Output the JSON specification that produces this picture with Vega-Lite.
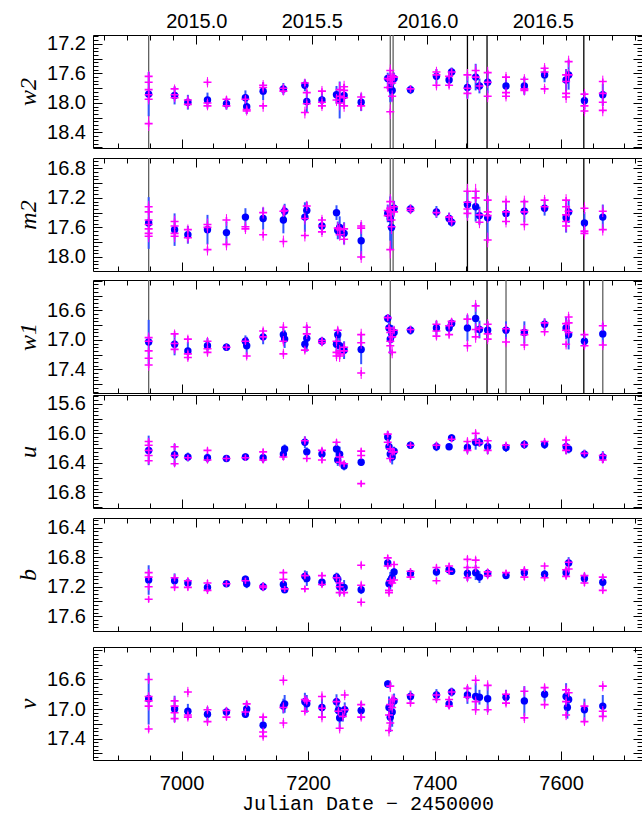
{
"$schema":"https://vega.github.io/schema/vega-lite/v6.json",
"background":"#ffffff",
"padding":{"left":16,"top":10,"right":0,"bottom":0},
"spacing":-3,
"config":{"view":{"stroke":"#000000","strokeWidth":1},
 "axis":{"labelFont":"Liberation Sans","labelFontSize":20,"labelColor":"#000000","tickColor":"#000000","tickWidth":1,"grid":false,"labelOverlap":false,"labelBound":false,"labelFlush":false,"titleColor":"#000000","minExtent":0}},
"datasets":{
"lines":[
{"f":"w2","t":6948,"k":"a"},{"f":"w2","t":7330,"k":"a"},{"f":"w2","t":7334.5,"k":"a"},{"f":"w2","t":7452,"k":"b"},{"f":"w2","t":7483,"k":"b"},{"f":"w2","t":7636,"k":"b"},
{"f":"m2","t":6948,"k":"a"},{"f":"m2","t":7330,"k":"a"},{"f":"m2","t":7334.5,"k":"a"},{"f":"m2","t":7452,"k":"b"},{"f":"m2","t":7483,"k":"b"},{"f":"m2","t":7636,"k":"b"},
{"f":"w1","t":6948,"k":"a"},{"f":"w1","t":7330,"k":"a"},{"f":"w1","t":7483,"k":"b"},{"f":"w1","t":7513,"k":"a"},{"f":"w1","t":7636,"k":"b"},{"f":"w1","t":7666,"k":"a"}],
"blue":[
{"f":"w2","t":6948,"m":17.88,"e":0.3},{"f":"w2","t":6989,"m":17.9,"e":0.12},{"f":"w2","t":7010,"m":17.99,"e":0.1},{"f":"w2","t":7041,"m":17.96,"e":0.1},{"f":"w2","t":7071,"m":18.01,"e":0.08},{"f":"w2","t":7101,"m":17.93,"e":0.1},{"f":"w2","t":7103,"m":18.05,"e":0.1},{"f":"w2","t":7129,"m":17.84,"e":0.12},{"f":"w2","t":7161,"m":17.81,"e":0.08},{"f":"w2","t":7195,"m":17.76,"e":0.08},{"f":"w2","t":7198,"m":17.98,"e":0.15},{"f":"w2","t":7222,"m":17.96,"e":0.12},{"f":"w2","t":7245,"m":17.89,"e":0.12},{"f":"w2","t":7250,"m":17.96,"e":0.25},{"f":"w2","t":7257,"m":17.9,"e":0.15},{"f":"w2","t":7284,"m":17.99,"e":0.12},{"f":"w2","t":7326,"m":17.67,"e":0.08},{"f":"w2","t":7330,"m":17.79,"e":0.2},{"f":"w2","t":7333,"m":17.83,"e":0.15},{"f":"w2","t":7336,"m":17.67,"e":0.08},{"f":"w2","t":7362,"m":17.82,"e":0.06},{"f":"w2","t":7403,"m":17.64,"e":0.1},{"f":"w2","t":7423,"m":17.69,"e":0.08},{"f":"w2","t":7427,"m":17.58,"e":0.06},{"f":"w2","t":7452,"m":17.79,"e":0.15},{"f":"w2","t":7465,"m":17.65,"e":0.18},{"f":"w2","t":7471,"m":17.77,"e":0.1},{"f":"w2","t":7484,"m":17.72,"e":0.15},{"f":"w2","t":7513,"m":17.77,"e":0.12},{"f":"w2","t":7542,"m":17.77,"e":0.12},{"f":"w2","t":7574,"m":17.62,"e":0.1},{"f":"w2","t":7608,"m":17.69,"e":0.15},{"f":"w2","t":7612,"m":17.62,"e":0.2},{"f":"w2","t":7637,"m":17.97,"e":0.12},{"f":"w2","t":7666,"m":17.89,"e":0.15},
{"f":"m2","t":6948,"m":17.54,"e":0.35},{"f":"m2","t":6989,"m":17.63,"e":0.22},{"f":"m2","t":7010,"m":17.7,"e":0.12},{"f":"m2","t":7041,"m":17.63,"e":0.2},{"f":"m2","t":7071,"m":17.67,"e":0.15},{"f":"m2","t":7101,"m":17.46,"e":0.12},{"f":"m2","t":7129,"m":17.48,"e":0.15},{"f":"m2","t":7161,"m":17.5,"e":0.18},{"f":"m2","t":7163,"m":17.38,"e":0.1},{"f":"m2","t":7195,"m":17.46,"e":0.2},{"f":"m2","t":7198,"m":17.37,"e":0.12},{"f":"m2","t":7222,"m":17.58,"e":0.12},{"f":"m2","t":7245,"m":17.4,"e":0.1},{"f":"m2","t":7247,"m":17.64,"e":0.12},{"f":"m2","t":7250,"m":17.6,"e":0.15},{"f":"m2","t":7257,"m":17.68,"e":0.15},{"f":"m2","t":7284,"m":17.78,"e":0.25},{"f":"m2","t":7326,"m":17.41,"e":0.12},{"f":"m2","t":7330,"m":17.48,"e":0.3},{"f":"m2","t":7332,"m":17.6,"e":0.3},{"f":"m2","t":7336,"m":17.34,"e":0.1},{"f":"m2","t":7362,"m":17.35,"e":0.06},{"f":"m2","t":7403,"m":17.39,"e":0.08},{"f":"m2","t":7423,"m":17.48,"e":0.08},{"f":"m2","t":7427,"m":17.53,"e":0.06},{"f":"m2","t":7452,"m":17.29,"e":0.18},{"f":"m2","t":7465,"m":17.32,"e":0.2},{"f":"m2","t":7471,"m":17.44,"e":0.12},{"f":"m2","t":7484,"m":17.47,"e":0.3},{"f":"m2","t":7513,"m":17.41,"e":0.15},{"f":"m2","t":7542,"m":17.38,"e":0.15},{"f":"m2","t":7574,"m":17.34,"e":0.1},{"f":"m2","t":7608,"m":17.47,"e":0.2},{"f":"m2","t":7612,"m":17.39,"e":0.15},{"f":"m2","t":7637,"m":17.54,"e":0.15},{"f":"m2","t":7666,"m":17.46,"e":0.17},
{"f":"w1","t":6948,"m":17.03,"e":0.3},{"f":"w1","t":6989,"m":17.06,"e":0.15},{"f":"w1","t":7010,"m":17.15,"e":0.12},{"f":"w1","t":7041,"m":17.08,"e":0.1},{"f":"w1","t":7071,"m":17.1,"e":0.05},{"f":"w1","t":7101,"m":17.02,"e":0.08},{"f":"w1","t":7103,"m":17.08,"e":0.12},{"f":"w1","t":7129,"m":16.96,"e":0.1},{"f":"w1","t":7161,"m":16.93,"e":0.1},{"f":"w1","t":7163,"m":16.99,"e":0.12},{"f":"w1","t":7195,"m":17.06,"e":0.1},{"f":"w1","t":7198,"m":16.98,"e":0.18},{"f":"w1","t":7222,"m":17.02,"e":0.06},{"f":"w1","t":7245,"m":17.06,"e":0.12},{"f":"w1","t":7247,"m":16.93,"e":0.08},{"f":"w1","t":7250,"m":17.08,"e":0.15},{"f":"w1","t":7257,"m":17.14,"e":0.12},{"f":"w1","t":7284,"m":17.13,"e":0.2},{"f":"w1","t":7326,"m":16.71,"e":0.06},{"f":"w1","t":7328,"m":16.84,"e":0.1},{"f":"w1","t":7330,"m":16.99,"e":0.2},{"f":"w1","t":7333,"m":16.92,"e":0.12},{"f":"w1","t":7336,"m":16.9,"e":0.08},{"f":"w1","t":7362,"m":16.87,"e":0.06},{"f":"w1","t":7403,"m":16.84,"e":0.1},{"f":"w1","t":7423,"m":16.84,"e":0.08},{"f":"w1","t":7427,"m":16.78,"e":0.06},{"f":"w1","t":7452,"m":16.84,"e":0.18},{"f":"w1","t":7465,"m":16.71,"e":0.2},{"f":"w1","t":7471,"m":16.86,"e":0.12},{"f":"w1","t":7484,"m":16.87,"e":0.12},{"f":"w1","t":7513,"m":16.87,"e":0.12},{"f":"w1","t":7542,"m":16.9,"e":0.15},{"f":"w1","t":7574,"m":16.79,"e":0.08},{"f":"w1","t":7608,"m":16.84,"e":0.15},{"f":"w1","t":7612,"m":16.93,"e":0.2},{"f":"w1","t":7637,"m":17.02,"e":0.08},{"f":"w1","t":7666,"m":16.92,"e":0.15},
{"f":"u","t":6948,"m":16.23,"e":0.2},{"f":"u","t":6989,"m":16.29,"e":0.15},{"f":"u","t":7010,"m":16.32,"e":0.06},{"f":"u","t":7041,"m":16.33,"e":0.06},{"f":"u","t":7071,"m":16.34,"e":0.04},{"f":"u","t":7101,"m":16.32,"e":0.05},{"f":"u","t":7129,"m":16.33,"e":0.07},{"f":"u","t":7161,"m":16.28,"e":0.08},{"f":"u","t":7163,"m":16.21,"e":0.06},{"f":"u","t":7195,"m":16.12,"e":0.08},{"f":"u","t":7198,"m":16.25,"e":0.06},{"f":"u","t":7222,"m":16.28,"e":0.08},{"f":"u","t":7245,"m":16.21,"e":0.1},{"f":"u","t":7247,"m":16.36,"e":0.08},{"f":"u","t":7250,"m":16.28,"e":0.1},{"f":"u","t":7257,"m":16.44,"e":0.06},{"f":"u","t":7284,"m":16.39,"e":0.05},{"f":"u","t":7326,"m":16.05,"e":0.08},{"f":"u","t":7328,"m":16.18,"e":0.1},{"f":"u","t":7330,"m":16.28,"e":0.1},{"f":"u","t":7333,"m":16.32,"e":0.1},{"f":"u","t":7336,"m":16.24,"e":0.06},{"f":"u","t":7362,"m":16.16,"e":0.05},{"f":"u","t":7403,"m":16.18,"e":0.06},{"f":"u","t":7423,"m":16.18,"e":0.04},{"f":"u","t":7427,"m":16.06,"e":0.05},{"f":"u","t":7452,"m":16.19,"e":0.08},{"f":"u","t":7465,"m":16.12,"e":0.1},{"f":"u","t":7471,"m":16.12,"e":0.06},{"f":"u","t":7484,"m":16.18,"e":0.1},{"f":"u","t":7513,"m":16.19,"e":0.06},{"f":"u","t":7542,"m":16.15,"e":0.06},{"f":"u","t":7574,"m":16.15,"e":0.06},{"f":"u","t":7608,"m":16.18,"e":0.1},{"f":"u","t":7612,"m":16.21,"e":0.06},{"f":"u","t":7637,"m":16.28,"e":0.06},{"f":"u","t":7666,"m":16.32,"e":0.08},
{"f":"b","t":6948,"m":17.11,"e":0.2},{"f":"b","t":6989,"m":17.12,"e":0.1},{"f":"b","t":7010,"m":17.15,"e":0.06},{"f":"b","t":7041,"m":17.21,"e":0.06},{"f":"b","t":7071,"m":17.16,"e":0.04},{"f":"b","t":7101,"m":17.1,"e":0.05},{"f":"b","t":7103,"m":17.16,"e":0.06},{"f":"b","t":7129,"m":17.2,"e":0.06},{"f":"b","t":7161,"m":17.17,"e":0.06},{"f":"b","t":7163,"m":17.24,"e":0.05},{"f":"b","t":7195,"m":17.06,"e":0.08},{"f":"b","t":7198,"m":17.09,"e":0.1},{"f":"b","t":7222,"m":17.14,"e":0.06},{"f":"b","t":7245,"m":17.07,"e":0.06},{"f":"b","t":7247,"m":17.1,"e":0.08},{"f":"b","t":7250,"m":17.2,"e":0.12},{"f":"b","t":7257,"m":17.21,"e":0.1},{"f":"b","t":7284,"m":17.24,"e":0.06},{"f":"b","t":7326,"m":16.88,"e":0.06},{"f":"b","t":7328,"m":17.16,"e":0.1},{"f":"b","t":7330,"m":17.12,"e":0.12},{"f":"b","t":7333,"m":17.08,"e":0.1},{"f":"b","t":7336,"m":17.0,"e":0.06},{"f":"b","t":7362,"m":17.02,"e":0.04},{"f":"b","t":7403,"m":17.0,"e":0.06},{"f":"b","t":7423,"m":16.97,"e":0.05},{"f":"b","t":7427,"m":16.99,"e":0.05},{"f":"b","t":7452,"m":17.02,"e":0.1},{"f":"b","t":7465,"m":17.01,"e":0.1},{"f":"b","t":7471,"m":17.07,"e":0.08},{"f":"b","t":7484,"m":17.02,"e":0.06},{"f":"b","t":7513,"m":17.05,"e":0.04},{"f":"b","t":7542,"m":17.01,"e":0.06},{"f":"b","t":7574,"m":17.03,"e":0.06},{"f":"b","t":7608,"m":17.01,"e":0.07},{"f":"b","t":7612,"m":16.88,"e":0.08},{"f":"b","t":7637,"m":17.09,"e":0.07},{"f":"b","t":7666,"m":17.14,"e":0.09},
{"f":"v","t":6948,"m":16.86,"e":0.35},{"f":"v","t":6989,"m":17.0,"e":0.18},{"f":"v","t":7010,"m":17.03,"e":0.1},{"f":"v","t":7041,"m":17.07,"e":0.1},{"f":"v","t":7071,"m":17.04,"e":0.06},{"f":"v","t":7101,"m":17.07,"e":0.05},{"f":"v","t":7103,"m":17.0,"e":0.1},{"f":"v","t":7129,"m":17.22,"e":0.12},{"f":"v","t":7161,"m":16.96,"e":0.1},{"f":"v","t":7163,"m":16.93,"e":0.12},{"f":"v","t":7195,"m":16.9,"e":0.12},{"f":"v","t":7198,"m":16.93,"e":0.12},{"f":"v","t":7222,"m":16.98,"e":0.12},{"f":"v","t":7245,"m":16.9,"e":0.1},{"f":"v","t":7248,"m":17.02,"e":0.1},{"f":"v","t":7250,"m":17.12,"e":0.15},{"f":"v","t":7255,"m":17.07,"e":0.1},{"f":"v","t":7258,"m":17.01,"e":0.1},{"f":"v","t":7284,"m":17.02,"e":0.12},{"f":"v","t":7326,"m":16.66,"e":0.05},{"f":"v","t":7328,"m":16.98,"e":0.15},{"f":"v","t":7330,"m":17.11,"e":0.2},{"f":"v","t":7333,"m":17.04,"e":0.2},{"f":"v","t":7336,"m":16.89,"e":0.1},{"f":"v","t":7362,"m":16.83,"e":0.08},{"f":"v","t":7403,"m":16.81,"e":0.08},{"f":"v","t":7423,"m":16.93,"e":0.06},{"f":"v","t":7427,"m":16.77,"e":0.06},{"f":"v","t":7452,"m":16.81,"e":0.12},{"f":"v","t":7465,"m":16.83,"e":0.18},{"f":"v","t":7471,"m":16.84,"e":0.1},{"f":"v","t":7484,"m":16.86,"e":0.18},{"f":"v","t":7513,"m":16.84,"e":0.1},{"f":"v","t":7542,"m":16.89,"e":0.2},{"f":"v","t":7574,"m":16.8,"e":0.1},{"f":"v","t":7608,"m":16.83,"e":0.18},{"f":"v","t":7610,"m":16.98,"e":0.15},{"f":"v","t":7612,"m":16.87,"e":0.1},{"f":"v","t":7637,"m":17.01,"e":0.15},{"f":"v","t":7666,"m":16.96,"e":0.15}],
"mag":[
{"f":"w2","t":6948,"m":17.64,"e":0.07},{"f":"w2","t":6948,"m":17.72,"e":0.06},{"f":"w2","t":6948,"m":17.82,"e":0.06},{"f":"w2","t":6948,"m":17.89,"e":0.06},{"f":"w2","t":6948,"m":17.95,"e":0.07},{"f":"w2","t":6948,"m":18.28,"e":0.1},
{"f":"w2","t":6989,"m":17.81,"e":0.06},{"f":"w2","t":6989,"m":17.89,"e":0.06},{"f":"w2","t":6989,"m":17.93,"e":0.06},
{"f":"w2","t":7010,"m":17.96,"e":0.06},{"f":"w2","t":7010,"m":18.02,"e":0.06},
{"f":"w2","t":7041,"m":17.72,"e":0.07},{"f":"w2","t":7041,"m":18.0,"e":0.06},{"f":"w2","t":7041,"m":18.04,"e":0.06},
{"f":"w2","t":7071,"m":17.95,"e":0.05},{"f":"w2","t":7071,"m":18.04,"e":0.05},
{"f":"w2","t":7101,"m":17.95,"e":0.06},{"f":"w2","t":7103,"m":18.09,"e":0.06},{"f":"w2","t":7103,"m":18.11,"e":0.06},
{"f":"w2","t":7129,"m":17.76,"e":0.07},{"f":"w2","t":7129,"m":17.79,"e":0.07},{"f":"w2","t":7129,"m":18.04,"e":0.08},
{"f":"w2","t":7161,"m":17.8,"e":0.06},{"f":"w2","t":7161,"m":17.84,"e":0.06},
{"f":"w2","t":7195,"m":17.73,"e":0.06},{"f":"w2","t":7195,"m":18.13,"e":0.08},{"f":"w2","t":7198,"m":17.86,"e":0.07},{"f":"w2","t":7198,"m":18.01,"e":0.07},
{"f":"w2","t":7222,"m":17.84,"e":0.07},{"f":"w2","t":7222,"m":17.99,"e":0.07},{"f":"w2","t":7222,"m":18.04,"e":0.07},
{"f":"w2","t":7245,"m":17.96,"e":0.08},{"f":"w2","t":7250,"m":17.82,"e":0.1},{"f":"w2","t":7250,"m":17.91,"e":0.1},{"f":"w2","t":7250,"m":18.0,"e":0.1},
{"f":"w2","t":7257,"m":17.78,"e":0.08},{"f":"w2","t":7257,"m":17.83,"e":0.08},{"f":"w2","t":7257,"m":17.93,"e":0.08},{"f":"w2","t":7257,"m":18.04,"e":0.08},
{"f":"w2","t":7284,"m":17.92,"e":0.07},{"f":"w2","t":7284,"m":18.04,"e":0.07},
{"f":"w2","t":7326,"m":17.67,"e":0.06},{"f":"w2","t":7326,"m":17.79,"e":0.06},
{"f":"w2","t":7330,"m":17.56,"e":0.08},{"f":"w2","t":7330,"m":17.69,"e":0.08},{"f":"w2","t":7330,"m":18.12,"e":0.1},
{"f":"w2","t":7333,"m":17.64,"e":0.07},{"f":"w2","t":7333,"m":17.73,"e":0.07},{"f":"w2","t":7333,"m":17.91,"e":0.08},
{"f":"w2","t":7336,"m":17.65,"e":0.06},{"f":"w2","t":7362,"m":17.81,"e":0.05},
{"f":"w2","t":7403,"m":17.58,"e":0.07},{"f":"w2","t":7403,"m":17.62,"e":0.07},{"f":"w2","t":7403,"m":17.76,"e":0.07},
{"f":"w2","t":7423,"m":17.64,"e":0.06},{"f":"w2","t":7423,"m":17.76,"e":0.06},{"f":"w2","t":7427,"m":17.58,"e":0.05},
{"f":"w2","t":7452,"m":17.62,"e":0.08},{"f":"w2","t":7452,"m":17.8,"e":0.08},{"f":"w2","t":7452,"m":17.87,"e":0.08},
{"f":"w2","t":7465,"m":17.56,"e":0.08},{"f":"w2","t":7465,"m":17.65,"e":0.08},{"f":"w2","t":7471,"m":17.77,"e":0.07},
{"f":"w2","t":7484,"m":17.59,"e":0.08},{"f":"w2","t":7484,"m":17.72,"e":0.08},{"f":"w2","t":7484,"m":17.91,"e":0.08},
{"f":"w2","t":7513,"m":17.65,"e":0.07},{"f":"w2","t":7513,"m":17.86,"e":0.07},{"f":"w2","t":7513,"m":17.91,"e":0.07},
{"f":"w2","t":7542,"m":17.68,"e":0.07},{"f":"w2","t":7542,"m":17.81,"e":0.07},{"f":"w2","t":7542,"m":17.83,"e":0.07},
{"f":"w2","t":7574,"m":17.53,"e":0.07},{"f":"w2","t":7574,"m":17.58,"e":0.07},{"f":"w2","t":7574,"m":17.81,"e":0.07},
{"f":"w2","t":7608,"m":17.62,"e":0.08},{"f":"w2","t":7608,"m":17.71,"e":0.08},{"f":"w2","t":7608,"m":17.87,"e":0.08},{"f":"w2","t":7608,"m":17.92,"e":0.08},
{"f":"w2","t":7612,"m":17.44,"e":0.08},{"f":"w2","t":7612,"m":17.62,"e":0.08},
{"f":"w2","t":7637,"m":17.88,"e":0.07},{"f":"w2","t":7637,"m":18.04,"e":0.07},{"f":"w2","t":7637,"m":18.11,"e":0.07},
{"f":"w2","t":7666,"m":17.71,"e":0.08},{"f":"w2","t":7666,"m":17.87,"e":0.08},{"f":"w2","t":7666,"m":17.99,"e":0.08},{"f":"w2","t":7666,"m":18.1,"e":0.08},
{"f":"m2","t":6948,"m":17.32,"e":0.08},{"f":"m2","t":6948,"m":17.39,"e":0.08},{"f":"m2","t":6948,"m":17.5,"e":0.08},{"f":"m2","t":6948,"m":17.56,"e":0.08},{"f":"m2","t":6948,"m":17.62,"e":0.08},{"f":"m2","t":6948,"m":17.68,"e":0.08},{"f":"m2","t":6948,"m":17.72,"e":0.08},
{"f":"m2","t":6989,"m":17.52,"e":0.08},{"f":"m2","t":6989,"m":17.58,"e":0.08},{"f":"m2","t":6989,"m":17.68,"e":0.08},{"f":"m2","t":6989,"m":17.72,"e":0.08},
{"f":"m2","t":7010,"m":17.63,"e":0.07},{"f":"m2","t":7010,"m":17.74,"e":0.07},
{"f":"m2","t":7041,"m":17.56,"e":0.08},{"f":"m2","t":7041,"m":17.6,"e":0.08},{"f":"m2","t":7041,"m":17.9,"e":0.08},
{"f":"m2","t":7071,"m":17.5,"e":0.08},{"f":"m2","t":7071,"m":17.83,"e":0.08},
{"f":"m2","t":7101,"m":17.59,"e":0.07},{"f":"m2","t":7101,"m":17.62,"e":0.07},
{"f":"m2","t":7129,"m":17.4,"e":0.08},{"f":"m2","t":7129,"m":17.7,"e":0.08},
{"f":"m2","t":7161,"m":17.38,"e":0.08},{"f":"m2","t":7161,"m":17.79,"e":0.08},{"f":"m2","t":7163,"m":17.37,"e":0.07},
{"f":"m2","t":7195,"m":17.48,"e":0.08},{"f":"m2","t":7195,"m":17.71,"e":0.08},{"f":"m2","t":7198,"m":17.31,"e":0.07},
{"f":"m2","t":7222,"m":17.5,"e":0.07},{"f":"m2","t":7222,"m":17.58,"e":0.07},{"f":"m2","t":7222,"m":17.66,"e":0.07},
{"f":"m2","t":7247,"m":17.61,"e":0.08},{"f":"m2","t":7250,"m":17.63,"e":0.08},{"f":"m2","t":7250,"m":17.7,"e":0.08},{"f":"m2","t":7257,"m":17.62,"e":0.08},{"f":"m2","t":7257,"m":17.76,"e":0.08},
{"f":"m2","t":7284,"m":17.58,"e":0.08},{"f":"m2","t":7284,"m":17.61,"e":0.08},{"f":"m2","t":7284,"m":18.0,"e":0.08},
{"f":"m2","t":7326,"m":17.37,"e":0.07},{"f":"m2","t":7326,"m":17.44,"e":0.07},
{"f":"m2","t":7330,"m":17.25,"e":0.1},{"f":"m2","t":7330,"m":17.34,"e":0.1},{"f":"m2","t":7330,"m":17.39,"e":0.1},{"f":"m2","t":7330,"m":17.9,"e":0.12},
{"f":"m2","t":7332,"m":17.5,"e":0.1},{"f":"m2","t":7332,"m":17.59,"e":0.1},{"f":"m2","t":7336,"m":17.32,"e":0.07},{"f":"m2","t":7336,"m":17.39,"e":0.07},
{"f":"m2","t":7362,"m":17.34,"e":0.05},{"f":"m2","t":7362,"m":17.37,"e":0.05},
{"f":"m2","t":7403,"m":17.4,"e":0.06},{"f":"m2","t":7423,"m":17.46,"e":0.06},{"f":"m2","t":7427,"m":17.52,"e":0.06},
{"f":"m2","t":7452,"m":17.11,"e":0.1},{"f":"m2","t":7452,"m":17.26,"e":0.1},{"f":"m2","t":7452,"m":17.35,"e":0.1},{"f":"m2","t":7452,"m":17.41,"e":0.1},
{"f":"m2","t":7465,"m":17.11,"e":0.1},{"f":"m2","t":7465,"m":17.2,"e":0.1},
{"f":"m2","t":7471,"m":17.43,"e":0.08},{"f":"m2","t":7471,"m":17.53,"e":0.08},
{"f":"m2","t":7484,"m":17.23,"e":0.1},{"f":"m2","t":7484,"m":17.39,"e":0.1},{"f":"m2","t":7484,"m":17.44,"e":0.1},{"f":"m2","t":7484,"m":17.77,"e":0.1},
{"f":"m2","t":7513,"m":17.25,"e":0.08},{"f":"m2","t":7513,"m":17.39,"e":0.08},{"f":"m2","t":7513,"m":17.52,"e":0.08},
{"f":"m2","t":7542,"m":17.25,"e":0.08},{"f":"m2","t":7542,"m":17.39,"e":0.08},{"f":"m2","t":7542,"m":17.56,"e":0.08},
{"f":"m2","t":7574,"m":17.23,"e":0.07},{"f":"m2","t":7574,"m":17.32,"e":0.07},
{"f":"m2","t":7608,"m":17.23,"e":0.08},{"f":"m2","t":7608,"m":17.32,"e":0.08},{"f":"m2","t":7608,"m":17.43,"e":0.08},{"f":"m2","t":7608,"m":17.52,"e":0.08},{"f":"m2","t":7608,"m":17.58,"e":0.08},
{"f":"m2","t":7612,"m":17.38,"e":0.08},
{"f":"m2","t":7637,"m":17.34,"e":0.08},{"f":"m2","t":7637,"m":17.65,"e":0.08},{"f":"m2","t":7637,"m":17.68,"e":0.08},
{"f":"m2","t":7666,"m":17.38,"e":0.08},{"f":"m2","t":7666,"m":17.63,"e":0.08},
{"f":"w1","t":6948,"m":16.97,"e":0.07},{"f":"w1","t":6948,"m":17.02,"e":0.07},{"f":"w1","t":6948,"m":17.15,"e":0.07},{"f":"w1","t":6948,"m":17.25,"e":0.08},{"f":"w1","t":6948,"m":17.34,"e":0.08},
{"f":"w1","t":6989,"m":16.92,"e":0.06},{"f":"w1","t":6989,"m":17.05,"e":0.06},{"f":"w1","t":6989,"m":17.13,"e":0.06},
{"f":"w1","t":7010,"m":16.99,"e":0.06},{"f":"w1","t":7010,"m":17.19,"e":0.06},{"f":"w1","t":7010,"m":17.24,"e":0.06},
{"f":"w1","t":7041,"m":17.02,"e":0.06},{"f":"w1","t":7041,"m":17.12,"e":0.06},{"f":"w1","t":7041,"m":17.17,"e":0.06},
{"f":"w1","t":7071,"m":17.1,"e":0.04},{"f":"w1","t":7101,"m":17.02,"e":0.05},{"f":"w1","t":7103,"m":17.22,"e":0.06},
{"f":"w1","t":7129,"m":16.88,"e":0.06},{"f":"w1","t":7129,"m":16.96,"e":0.06},
{"f":"w1","t":7161,"m":16.83,"e":0.07},{"f":"w1","t":7161,"m":17.02,"e":0.07},{"f":"w1","t":7161,"m":17.19,"e":0.07},
{"f":"w1","t":7195,"m":17.14,"e":0.06},{"f":"w1","t":7198,"m":16.83,"e":0.07},{"f":"w1","t":7198,"m":16.92,"e":0.07},
{"f":"w1","t":7222,"m":17.01,"e":0.05},{"f":"w1","t":7222,"m":17.04,"e":0.05},
{"f":"w1","t":7245,"m":17.02,"e":0.07},{"f":"w1","t":7245,"m":17.17,"e":0.07},{"f":"w1","t":7245,"m":17.22,"e":0.07},{"f":"w1","t":7247,"m":16.87,"e":0.06},
{"f":"w1","t":7250,"m":17.15,"e":0.08},{"f":"w1","t":7250,"m":17.19,"e":0.08},{"f":"w1","t":7250,"m":17.22,"e":0.08},
{"f":"w1","t":7257,"m":17.1,"e":0.07},{"f":"w1","t":7257,"m":17.15,"e":0.07},
{"f":"w1","t":7284,"m":16.93,"e":0.08},{"f":"w1","t":7284,"m":17.04,"e":0.08},{"f":"w1","t":7284,"m":17.45,"e":0.08},
{"f":"w1","t":7326,"m":16.7,"e":0.05},{"f":"w1","t":7328,"m":16.84,"e":0.06},
{"f":"w1","t":7330,"m":16.9,"e":0.08},{"f":"w1","t":7330,"m":17.02,"e":0.08},{"f":"w1","t":7330,"m":17.08,"e":0.08},
{"f":"w1","t":7333,"m":16.96,"e":0.08},{"f":"w1","t":7333,"m":17.17,"e":0.08},{"f":"w1","t":7336,"m":16.87,"e":0.06},
{"f":"w1","t":7362,"m":16.86,"e":0.05},
{"f":"w1","t":7403,"m":16.79,"e":0.06},{"f":"w1","t":7403,"m":16.88,"e":0.06},{"f":"w1","t":7403,"m":16.95,"e":0.06},
{"f":"w1","t":7423,"m":16.81,"e":0.06},{"f":"w1","t":7423,"m":16.93,"e":0.06},{"f":"w1","t":7427,"m":16.75,"e":0.05},
{"f":"w1","t":7452,"m":16.72,"e":0.08},{"f":"w1","t":7452,"m":17.08,"e":0.08},
{"f":"w1","t":7465,"m":16.54,"e":0.08},{"f":"w1","t":7465,"m":16.86,"e":0.08},{"f":"w1","t":7465,"m":16.96,"e":0.08},
{"f":"w1","t":7471,"m":16.84,"e":0.06},
{"f":"w1","t":7484,"m":16.79,"e":0.07},{"f":"w1","t":7484,"m":16.92,"e":0.07},{"f":"w1","t":7484,"m":16.99,"e":0.07},
{"f":"w1","t":7513,"m":16.85,"e":0.07},{"f":"w1","t":7513,"m":17.03,"e":0.07},
{"f":"w1","t":7542,"m":16.87,"e":0.07},{"f":"w1","t":7542,"m":16.93,"e":0.07},{"f":"w1","t":7542,"m":17.07,"e":0.07},
{"f":"w1","t":7574,"m":16.77,"e":0.06},{"f":"w1","t":7574,"m":16.89,"e":0.06},
{"f":"w1","t":7608,"m":16.78,"e":0.07},{"f":"w1","t":7608,"m":16.87,"e":0.07},{"f":"w1","t":7608,"m":17.06,"e":0.07},
{"f":"w1","t":7612,"m":16.69,"e":0.07},{"f":"w1","t":7612,"m":16.77,"e":0.07},{"f":"w1","t":7612,"m":16.9,"e":0.07},
{"f":"w1","t":7637,"m":16.93,"e":0.06},{"f":"w1","t":7637,"m":17.08,"e":0.06},
{"f":"w1","t":7666,"m":16.81,"e":0.07},{"f":"w1","t":7666,"m":17.07,"e":0.07},
{"f":"u","t":6948,"m":16.11,"e":0.05},{"f":"u","t":6948,"m":16.16,"e":0.05},{"f":"u","t":6948,"m":16.23,"e":0.05},{"f":"u","t":6948,"m":16.3,"e":0.05},{"f":"u","t":6948,"m":16.37,"e":0.05},
{"f":"u","t":6989,"m":16.18,"e":0.05},{"f":"u","t":6989,"m":16.3,"e":0.05},{"f":"u","t":6989,"m":16.41,"e":0.05},
{"f":"u","t":7010,"m":16.33,"e":0.04},{"f":"u","t":7041,"m":16.23,"e":0.05},{"f":"u","t":7041,"m":16.36,"e":0.05},
{"f":"u","t":7071,"m":16.34,"e":0.03},{"f":"u","t":7101,"m":16.33,"e":0.04},
{"f":"u","t":7129,"m":16.25,"e":0.05},{"f":"u","t":7129,"m":16.36,"e":0.05},{"f":"u","t":7161,"m":16.32,"e":0.05},
{"f":"u","t":7195,"m":16.1,"e":0.06},{"f":"u","t":7198,"m":16.34,"e":0.05},
{"f":"u","t":7222,"m":16.23,"e":0.05},{"f":"u","t":7222,"m":16.36,"e":0.05},{"f":"u","t":7245,"m":16.12,"e":0.05},
{"f":"u","t":7250,"m":16.32,"e":0.06},{"f":"u","t":7250,"m":16.39,"e":0.06},{"f":"u","t":7257,"m":16.41,"e":0.05},
{"f":"u","t":7284,"m":16.24,"e":0.05},{"f":"u","t":7284,"m":16.3,"e":0.05},{"f":"u","t":7284,"m":16.68,"e":0.05},
{"f":"u","t":7326,"m":16.01,"e":0.05},{"f":"u","t":7326,"m":16.12,"e":0.05},
{"f":"u","t":7330,"m":16.21,"e":0.06},{"f":"u","t":7330,"m":16.34,"e":0.06},{"f":"u","t":7333,"m":16.25,"e":0.06},{"f":"u","t":7336,"m":16.25,"e":0.05},
{"f":"u","t":7362,"m":16.16,"e":0.04},{"f":"u","t":7403,"m":16.16,"e":0.05},{"f":"u","t":7427,"m":16.08,"e":0.04},
{"f":"u","t":7452,"m":16.11,"e":0.06},{"f":"u","t":7452,"m":16.23,"e":0.06},
{"f":"u","t":7465,"m":16.0,"e":0.06},{"f":"u","t":7465,"m":16.09,"e":0.06},{"f":"u","t":7471,"m":16.13,"e":0.05},
{"f":"u","t":7484,"m":16.1,"e":0.06},{"f":"u","t":7484,"m":16.23,"e":0.06},
{"f":"u","t":7513,"m":16.16,"e":0.05},{"f":"u","t":7542,"m":16.15,"e":0.05},{"f":"u","t":7574,"m":16.11,"e":0.05},
{"f":"u","t":7608,"m":16.09,"e":0.06},{"f":"u","t":7608,"m":16.16,"e":0.06},{"f":"u","t":7608,"m":16.23,"e":0.06},
{"f":"u","t":7637,"m":16.27,"e":0.04},{"f":"u","t":7666,"m":16.3,"e":0.05},{"f":"u","t":7666,"m":16.36,"e":0.05},
{"f":"b","t":6948,"m":17.01,"e":0.05},{"f":"b","t":6948,"m":17.07,"e":0.05},{"f":"b","t":6948,"m":17.2,"e":0.05},{"f":"b","t":6948,"m":17.37,"e":0.05},
{"f":"b","t":6989,"m":17.08,"e":0.05},{"f":"b","t":6989,"m":17.21,"e":0.05},
{"f":"b","t":7010,"m":17.12,"e":0.05},{"f":"b","t":7010,"m":17.21,"e":0.05},
{"f":"b","t":7041,"m":17.15,"e":0.05},{"f":"b","t":7041,"m":17.25,"e":0.05},
{"f":"b","t":7071,"m":17.16,"e":0.04},{"f":"b","t":7101,"m":17.12,"e":0.04},
{"f":"b","t":7129,"m":17.19,"e":0.05},{"f":"b","t":7129,"m":17.21,"e":0.05},
{"f":"b","t":7161,"m":17.01,"e":0.05},{"f":"b","t":7161,"m":17.1,"e":0.05},{"f":"b","t":7163,"m":17.23,"e":0.04},
{"f":"b","t":7195,"m":17.05,"e":0.05},{"f":"b","t":7195,"m":17.23,"e":0.05},
{"f":"b","t":7222,"m":17.05,"e":0.05},{"f":"b","t":7222,"m":17.17,"e":0.05},{"f":"b","t":7245,"m":17.08,"e":0.05},
{"f":"b","t":7250,"m":17.15,"e":0.06},{"f":"b","t":7250,"m":17.2,"e":0.06},{"f":"b","t":7250,"m":17.28,"e":0.06},{"f":"b","t":7257,"m":17.28,"e":0.06},
{"f":"b","t":7284,"m":16.91,"e":0.06},{"f":"b","t":7284,"m":17.18,"e":0.06},{"f":"b","t":7284,"m":17.41,"e":0.06},
{"f":"b","t":7326,"m":16.81,"e":0.05},{"f":"b","t":7326,"m":16.92,"e":0.05},
{"f":"b","t":7328,"m":17.25,"e":0.06},{"f":"b","t":7328,"m":17.28,"e":0.06},{"f":"b","t":7330,"m":17.12,"e":0.06},{"f":"b","t":7333,"m":17.15,"e":0.06},
{"f":"b","t":7336,"m":16.9,"e":0.05},{"f":"b","t":7336,"m":17.11,"e":0.05},
{"f":"b","t":7362,"m":16.99,"e":0.04},{"f":"b","t":7362,"m":17.07,"e":0.04},
{"f":"b","t":7403,"m":16.94,"e":0.05},{"f":"b","t":7403,"m":17.12,"e":0.05},
{"f":"b","t":7423,"m":16.92,"e":0.05},{"f":"b","t":7423,"m":16.99,"e":0.05},
{"f":"b","t":7452,"m":16.83,"e":0.06},{"f":"b","t":7452,"m":16.94,"e":0.06},{"f":"b","t":7452,"m":17.08,"e":0.06},
{"f":"b","t":7465,"m":16.84,"e":0.06},{"f":"b","t":7465,"m":16.94,"e":0.06},
{"f":"b","t":7484,"m":17.0,"e":0.05},{"f":"b","t":7484,"m":17.05,"e":0.05},{"f":"b","t":7513,"m":17.01,"e":0.04},
{"f":"b","t":7542,"m":16.97,"e":0.05},{"f":"b","t":7542,"m":17.07,"e":0.05},
{"f":"b","t":7574,"m":16.92,"e":0.05},{"f":"b","t":7574,"m":17.08,"e":0.05},
{"f":"b","t":7608,"m":16.97,"e":0.05},{"f":"b","t":7608,"m":17.06,"e":0.05},
{"f":"b","t":7612,"m":16.87,"e":0.05},{"f":"b","t":7612,"m":16.96,"e":0.05},
{"f":"b","t":7637,"m":17.05,"e":0.05},{"f":"b","t":7637,"m":17.15,"e":0.05},
{"f":"b","t":7666,"m":17.07,"e":0.05},{"f":"b","t":7666,"m":17.25,"e":0.05},
{"f":"v","t":6948,"m":16.6,"e":0.06},{"f":"v","t":6948,"m":16.83,"e":0.06},{"f":"v","t":6948,"m":16.89,"e":0.06},{"f":"v","t":6948,"m":16.96,"e":0.06},{"f":"v","t":6948,"m":17.27,"e":0.06},
{"f":"v","t":6989,"m":16.89,"e":0.06},{"f":"v","t":6989,"m":16.96,"e":0.06},{"f":"v","t":6989,"m":17.05,"e":0.06},{"f":"v","t":6989,"m":17.13,"e":0.06},
{"f":"v","t":7010,"m":16.77,"e":0.07},{"f":"v","t":7010,"m":17.08,"e":0.06},{"f":"v","t":7010,"m":17.11,"e":0.06},
{"f":"v","t":7041,"m":17.01,"e":0.06},{"f":"v","t":7041,"m":17.17,"e":0.06},
{"f":"v","t":7071,"m":17.02,"e":0.05},{"f":"v","t":7071,"m":17.11,"e":0.05},
{"f":"v","t":7101,"m":17.04,"e":0.05},{"f":"v","t":7103,"m":16.93,"e":0.05},
{"f":"v","t":7129,"m":17.11,"e":0.06},{"f":"v","t":7129,"m":17.31,"e":0.06},{"f":"v","t":7129,"m":17.37,"e":0.06},
{"f":"v","t":7161,"m":16.61,"e":0.07},{"f":"v","t":7161,"m":16.98,"e":0.07},{"f":"v","t":7161,"m":17.19,"e":0.07},
{"f":"v","t":7195,"m":16.87,"e":0.06},{"f":"v","t":7195,"m":17.03,"e":0.06},{"f":"v","t":7198,"m":16.89,"e":0.06},
{"f":"v","t":7222,"m":16.83,"e":0.07},{"f":"v","t":7222,"m":16.99,"e":0.07},{"f":"v","t":7222,"m":17.11,"e":0.07},
{"f":"v","t":7245,"m":16.9,"e":0.06},{"f":"v","t":7248,"m":17.03,"e":0.06},{"f":"v","t":7250,"m":17.26,"e":0.07},{"f":"v","t":7255,"m":17.1,"e":0.06},
{"f":"v","t":7258,"m":16.81,"e":0.07},{"f":"v","t":7258,"m":17.01,"e":0.07},
{"f":"v","t":7284,"m":16.94,"e":0.06},{"f":"v","t":7284,"m":17.11,"e":0.06},
{"f":"v","t":7328,"m":17.08,"e":0.08},{"f":"v","t":7328,"m":17.29,"e":0.08},
{"f":"v","t":7330,"m":16.69,"e":0.08},{"f":"v","t":7330,"m":16.94,"e":0.08},{"f":"v","t":7330,"m":17.19,"e":0.08},
{"f":"v","t":7333,"m":16.87,"e":0.07},{"f":"v","t":7333,"m":16.98,"e":0.07},{"f":"v","t":7336,"m":16.87,"e":0.06},
{"f":"v","t":7362,"m":16.81,"e":0.05},{"f":"v","t":7362,"m":16.92,"e":0.05},
{"f":"v","t":7403,"m":16.81,"e":0.05},{"f":"v","t":7403,"m":16.87,"e":0.05},
{"f":"v","t":7423,"m":16.87,"e":0.05},{"f":"v","t":7423,"m":16.96,"e":0.05},{"f":"v","t":7427,"m":16.77,"e":0.05},
{"f":"v","t":7452,"m":16.72,"e":0.06},{"f":"v","t":7452,"m":16.84,"e":0.06},
{"f":"v","t":7465,"m":16.61,"e":0.07},{"f":"v","t":7465,"m":16.9,"e":0.07},{"f":"v","t":7465,"m":17.01,"e":0.07},
{"f":"v","t":7484,"m":16.68,"e":0.07},{"f":"v","t":7484,"m":17.01,"e":0.07},
{"f":"v","t":7513,"m":16.8,"e":0.06},{"f":"v","t":7513,"m":16.92,"e":0.06},
{"f":"v","t":7542,"m":16.76,"e":0.07},{"f":"v","t":7542,"m":17.12,"e":0.07},
{"f":"v","t":7574,"m":16.71,"e":0.06},{"f":"v","t":7574,"m":16.94,"e":0.06},
{"f":"v","t":7608,"m":16.74,"e":0.07},{"f":"v","t":7608,"m":16.9,"e":0.07},{"f":"v","t":7608,"m":17.08,"e":0.07},
{"f":"v","t":7612,"m":16.78,"e":0.06},
{"f":"v","t":7637,"m":16.96,"e":0.06},{"f":"v","t":7637,"m":17.17,"e":0.06},
{"f":"v","t":7666,"m":16.69,"e":0.07},{"f":"v","t":7666,"m":17.03,"e":0.07},{"f":"v","t":7666,"m":17.1,"e":0.07}]
},
"vconcat":[
{"width":549,"height":113,"resolve":{"axis":{"x":"independent","y":"independent"}},
"layer":[
{"data":{"name":"lines"},"transform":[{"filter":"datum.f=='w2'"}],"mark":{"type":"rule","strokeWidth":1.3},
 "encoding":{"x":{"field":"t","type":"quantitative","scale":{"domain":[6860,7728],"nice":false,"zero":false},"axis":{"orient":"bottom","values":[7000,7200,7400,7600],"tickSize":-9,"labels":false,"domain":false,"title":null}},
 "color":{"field":"k","type":"nominal","scale":{"domain":["a","b"],"range":["#606060","#000000"]},"legend":null}}},
{"data":{"name":"blue"},"transform":[{"filter":"datum.f=='w2'"}],"mark":{"type":"errorbar","color":"#3355ff","thickness":2},
 "encoding":{"x":{"field":"t","type":"quantitative","scale":{"domain":[6860,7728],"nice":false,"zero":false},"axis":{"orient":"bottom","values":[6900,6950,7050,7100,7150,7250,7300,7350,7450,7500,7550,7650,7700],"tickSize":-5,"labels":false,"domain":false,"title":null}},
 "y":{"field":"m","type":"quantitative","scale":{"domain":[17.08,18.61],"reverse":true,"nice":false,"zero":false},"axis":{"orient":"left","values":[17.1,17.15,17.2,17.25,17.3,17.35,17.4,17.45,17.5,17.55,17.6,17.65,17.7,17.75,17.8,17.85,17.9,17.95,18.0,18.05,18.1,18.15,18.2,18.25,18.3,18.35,18.4,18.45,18.5,18.55,18.6],"tickSize":-5,"labels":false,"domain":false,"title":null}},
 "yError":{"field":"e"}}},
{"data":{"name":"blue"},"transform":[{"filter":"datum.f=='w2'"}],"mark":{"type":"circle","color":"#0000ff","size":55,"opacity":1},
 "encoding":{"x":{"field":"t","type":"quantitative","scale":{"domain":[6860,7728],"nice":false,"zero":false},"axis":{"orient":"top","values":[7023.25,7205.875,7388.5,7571.125],"tickSize":-9,"labelPadding":13,"labelExpr":"format(2015+(datum.value-7023.25)/365.25,'.1f')","domain":false,"title":null}},
 "y":{"field":"m","type":"quantitative","scale":{"domain":[17.08,18.61],"reverse":true,"nice":false,"zero":false},"axis":{"orient":"left","values":[17.2,17.4,17.6,17.8,18.0,18.2,18.4,18.6],"tickSize":-9,"labelPadding":16.5,"labelExpr":"indexof([17.2,17.6,18,18.4],datum.value)>=0?format(datum.value,'.1f'):''","domain":false,"title":"w2","titleFont":"Liberation Serif","titleFontStyle":"italic","titleFontSize":24,"titleFontWeight":"normal","titlePadding":6}}}},
{"data":{"name":"mag"},"transform":[{"filter":"datum.f=='w2'"}],"mark":{"type":"errorbar","color":"#ff00ff","thickness":1},
 "encoding":{"x":{"field":"t","type":"quantitative","scale":{"domain":[6860,7728],"nice":false,"zero":false},"axis":{"orient":"top","values":[6877.15,6913.675,6950.2,6986.725,7059.775,7096.3,7132.825,7169.35,7242.4,7278.925,7315.45,7351.975,7425.025,7461.55,7498.075,7534.6,7607.65,7644.175,7680.7,7717.225],"tickSize":-5,"labels":false,"domain":false,"title":null}},
 "y":{"field":"m","type":"quantitative","scale":{"domain":[17.08,18.61],"reverse":true,"nice":false,"zero":false},"axis":{"orient":"right","values":[17.1,17.15,17.2,17.25,17.3,17.35,17.4,17.45,17.5,17.55,17.6,17.65,17.7,17.75,17.8,17.85,17.9,17.95,18.0,18.05,18.1,18.15,18.2,18.25,18.3,18.35,18.4,18.45,18.5,18.55,18.6],"tickSize":-5,"labels":false,"domain":false,"title":null}},
 "yError":{"field":"e"}}},
{"data":{"name":"mag"},"transform":[{"filter":"datum.f=='w2'"}],"mark":{"type":"point","shape":"M-1,0H1M0,-0.75V0.75","filled":false,"color":"#ff00ff","strokeWidth":1.6,"size":64,"opacity":1},
 "encoding":{"x":{"field":"t","type":"quantitative","scale":{"domain":[6860,7728],"nice":false,"zero":false},"axis":null},
 "y":{"field":"m","type":"quantitative","scale":{"domain":[17.08,18.61],"reverse":true,"nice":false,"zero":false},"axis":{"orient":"right","values":[17.2,17.4,17.6,17.8,18.0,18.2,18.4,18.6],"tickSize":-9,"labels":false,"domain":false,"title":null}}}}
]},
{"width":549,"height":113,"resolve":{"axis":{"x":"independent","y":"independent"}},
"layer":[
{"data":{"name":"lines"},"transform":[{"filter":"datum.f=='m2'"}],"mark":{"type":"rule","strokeWidth":1.3},
 "encoding":{"x":{"field":"t","type":"quantitative","scale":{"domain":[6860,7728],"nice":false,"zero":false},"axis":{"orient":"bottom","values":[7000,7200,7400,7600],"tickSize":-9,"labels":false,"domain":false,"title":null}},
 "color":{"field":"k","type":"nominal","scale":{"domain":["a","b"],"range":["#606060","#000000"]},"legend":null}}},
{"data":{"name":"blue"},"transform":[{"filter":"datum.f=='m2'"}],"mark":{"type":"errorbar","color":"#3355ff","thickness":2},
 "encoding":{"x":{"field":"t","type":"quantitative","scale":{"domain":[6860,7728],"nice":false,"zero":false},"axis":{"orient":"bottom","values":[6900,6950,7050,7100,7150,7250,7300,7350,7450,7500,7550,7650,7700],"tickSize":-5,"labels":false,"domain":false,"title":null}},
 "y":{"field":"m","type":"quantitative","scale":{"domain":[16.66,18.19],"reverse":true,"nice":false,"zero":false},"axis":{"orient":"left","values":[16.7,16.75,16.8,16.85,16.9,16.95,17.0,17.05,17.1,17.15,17.2,17.25,17.3,17.35,17.4,17.45,17.5,17.55,17.6,17.65,17.7,17.75,17.8,17.85,17.9,17.95,18.0,18.05,18.1,18.15],"tickSize":-5,"labels":false,"domain":false,"title":null}},
 "yError":{"field":"e"}}},
{"data":{"name":"blue"},"transform":[{"filter":"datum.f=='m2'"}],"mark":{"type":"circle","color":"#0000ff","size":55,"opacity":1},
 "encoding":{"x":{"field":"t","type":"quantitative","scale":{"domain":[6860,7728],"nice":false,"zero":false},"axis":{"orient":"top","values":[7023.25,7205.875,7388.5,7571.125],"tickSize":-9,"labels":false,"domain":false,"title":null}},
 "y":{"field":"m","type":"quantitative","scale":{"domain":[16.66,18.19],"reverse":true,"nice":false,"zero":false},"axis":{"orient":"left","values":[16.8,17.0,17.2,17.4,17.6,17.8,18.0],"tickSize":-9,"labelPadding":16.5,"labelExpr":"indexof([16.8,17.2,17.6,18],datum.value)>=0?format(datum.value,'.1f'):''","domain":false,"title":"m2","titleFont":"Liberation Serif","titleFontStyle":"italic","titleFontSize":24,"titleFontWeight":"normal","titlePadding":6}}}},
{"data":{"name":"mag"},"transform":[{"filter":"datum.f=='m2'"}],"mark":{"type":"errorbar","color":"#ff00ff","thickness":1},
 "encoding":{"x":{"field":"t","type":"quantitative","scale":{"domain":[6860,7728],"nice":false,"zero":false},"axis":{"orient":"top","values":[6877.15,6913.675,6950.2,6986.725,7059.775,7096.3,7132.825,7169.35,7242.4,7278.925,7315.45,7351.975,7425.025,7461.55,7498.075,7534.6,7607.65,7644.175,7680.7,7717.225],"tickSize":-5,"labels":false,"domain":false,"title":null}},
 "y":{"field":"m","type":"quantitative","scale":{"domain":[16.66,18.19],"reverse":true,"nice":false,"zero":false},"axis":{"orient":"right","values":[16.7,16.75,16.8,16.85,16.9,16.95,17.0,17.05,17.1,17.15,17.2,17.25,17.3,17.35,17.4,17.45,17.5,17.55,17.6,17.65,17.7,17.75,17.8,17.85,17.9,17.95,18.0,18.05,18.1,18.15],"tickSize":-5,"labels":false,"domain":false,"title":null}},
 "yError":{"field":"e"}}},
{"data":{"name":"mag"},"transform":[{"filter":"datum.f=='m2'"}],"mark":{"type":"point","shape":"M-1,0H1M0,-0.75V0.75","filled":false,"color":"#ff00ff","strokeWidth":1.6,"size":64,"opacity":1},
 "encoding":{"x":{"field":"t","type":"quantitative","scale":{"domain":[6860,7728],"nice":false,"zero":false},"axis":null},
 "y":{"field":"m","type":"quantitative","scale":{"domain":[16.66,18.19],"reverse":true,"nice":false,"zero":false},"axis":{"orient":"right","values":[16.8,17.0,17.2,17.4,17.6,17.8,18.0],"tickSize":-9,"labels":false,"domain":false,"title":null}}}}
]},
{"width":549,"height":113,"resolve":{"axis":{"x":"independent","y":"independent"}},
"layer":[
{"data":{"name":"lines"},"transform":[{"filter":"datum.f=='w1'"}],"mark":{"type":"rule","strokeWidth":1.3},
 "encoding":{"x":{"field":"t","type":"quantitative","scale":{"domain":[6860,7728],"nice":false,"zero":false},"axis":{"orient":"bottom","values":[7000,7200,7400,7600],"tickSize":-9,"labels":false,"domain":false,"title":null}},
 "color":{"field":"k","type":"nominal","scale":{"domain":["a","b"],"range":["#606060","#000000"]},"legend":null}}},
{"data":{"name":"blue"},"transform":[{"filter":"datum.f=='w1'"}],"mark":{"type":"errorbar","color":"#3355ff","thickness":2},
 "encoding":{"x":{"field":"t","type":"quantitative","scale":{"domain":[6860,7728],"nice":false,"zero":false},"axis":{"orient":"bottom","values":[6900,6950,7050,7100,7150,7250,7300,7350,7450,7500,7550,7650,7700],"tickSize":-5,"labels":false,"domain":false,"title":null}},
 "y":{"field":"m","type":"quantitative","scale":{"domain":[16.19,17.72],"reverse":true,"nice":false,"zero":false},"axis":{"orient":"left","values":[16.2,16.25,16.3,16.35,16.4,16.45,16.5,16.55,16.6,16.65,16.7,16.75,16.8,16.85,16.9,16.95,17.0,17.05,17.1,17.15,17.2,17.25,17.3,17.35,17.4,17.45,17.5,17.55,17.6,17.65,17.7],"tickSize":-5,"labels":false,"domain":false,"title":null}},
 "yError":{"field":"e"}}},
{"data":{"name":"blue"},"transform":[{"filter":"datum.f=='w1'"}],"mark":{"type":"circle","color":"#0000ff","size":55,"opacity":1},
 "encoding":{"x":{"field":"t","type":"quantitative","scale":{"domain":[6860,7728],"nice":false,"zero":false},"axis":{"orient":"top","values":[7023.25,7205.875,7388.5,7571.125],"tickSize":-9,"labels":false,"domain":false,"title":null}},
 "y":{"field":"m","type":"quantitative","scale":{"domain":[16.19,17.72],"reverse":true,"nice":false,"zero":false},"axis":{"orient":"left","values":[16.2,16.4,16.6,16.8,17.0,17.2,17.4,17.6],"tickSize":-9,"labelPadding":16.5,"labelExpr":"indexof([16.6,17,17.4],datum.value)>=0?format(datum.value,'.1f'):''","domain":false,"title":"w1","titleFont":"Liberation Serif","titleFontStyle":"italic","titleFontSize":24,"titleFontWeight":"normal","titlePadding":6}}}},
{"data":{"name":"mag"},"transform":[{"filter":"datum.f=='w1'"}],"mark":{"type":"errorbar","color":"#ff00ff","thickness":1},
 "encoding":{"x":{"field":"t","type":"quantitative","scale":{"domain":[6860,7728],"nice":false,"zero":false},"axis":{"orient":"top","values":[6877.15,6913.675,6950.2,6986.725,7059.775,7096.3,7132.825,7169.35,7242.4,7278.925,7315.45,7351.975,7425.025,7461.55,7498.075,7534.6,7607.65,7644.175,7680.7,7717.225],"tickSize":-5,"labels":false,"domain":false,"title":null}},
 "y":{"field":"m","type":"quantitative","scale":{"domain":[16.19,17.72],"reverse":true,"nice":false,"zero":false},"axis":{"orient":"right","values":[16.2,16.25,16.3,16.35,16.4,16.45,16.5,16.55,16.6,16.65,16.7,16.75,16.8,16.85,16.9,16.95,17.0,17.05,17.1,17.15,17.2,17.25,17.3,17.35,17.4,17.45,17.5,17.55,17.6,17.65,17.7],"tickSize":-5,"labels":false,"domain":false,"title":null}},
 "yError":{"field":"e"}}},
{"data":{"name":"mag"},"transform":[{"filter":"datum.f=='w1'"}],"mark":{"type":"point","shape":"M-1,0H1M0,-0.75V0.75","filled":false,"color":"#ff00ff","strokeWidth":1.6,"size":64,"opacity":1},
 "encoding":{"x":{"field":"t","type":"quantitative","scale":{"domain":[6860,7728],"nice":false,"zero":false},"axis":null},
 "y":{"field":"m","type":"quantitative","scale":{"domain":[16.19,17.72],"reverse":true,"nice":false,"zero":false},"axis":{"orient":"right","values":[16.2,16.4,16.6,16.8,17.0,17.2,17.4,17.6],"tickSize":-9,"labels":false,"domain":false,"title":null}}}}
]},
{"width":549,"height":113,"resolve":{"axis":{"x":"independent","y":"independent"}},
"layer":[
{"data":{"name":"lines"},"transform":[{"filter":"datum.f=='u'"}],"mark":{"type":"rule","strokeWidth":1.3},
 "encoding":{"x":{"field":"t","type":"quantitative","scale":{"domain":[6860,7728],"nice":false,"zero":false},"axis":{"orient":"bottom","values":[7000,7200,7400,7600],"tickSize":-9,"labels":false,"domain":false,"title":null}},
 "color":{"field":"k","type":"nominal","scale":{"domain":["a","b"],"range":["#606060","#000000"]},"legend":null}}},
{"data":{"name":"blue"},"transform":[{"filter":"datum.f=='u'"}],"mark":{"type":"errorbar","color":"#3355ff","thickness":2},
 "encoding":{"x":{"field":"t","type":"quantitative","scale":{"domain":[6860,7728],"nice":false,"zero":false},"axis":{"orient":"bottom","values":[6900,6950,7050,7100,7150,7250,7300,7350,7450,7500,7550,7650,7700],"tickSize":-5,"labels":false,"domain":false,"title":null}},
 "y":{"field":"m","type":"quantitative","scale":{"domain":[15.48,17.01],"reverse":true,"nice":false,"zero":false},"axis":{"orient":"left","values":[15.5,15.55,15.6,15.65,15.7,15.75,15.8,15.85,15.9,15.95,16.0,16.05,16.1,16.15,16.2,16.25,16.3,16.35,16.4,16.45,16.5,16.55,16.6,16.65,16.7,16.75,16.8,16.85,16.9,16.95,17.0],"tickSize":-5,"labels":false,"domain":false,"title":null}},
 "yError":{"field":"e"}}},
{"data":{"name":"blue"},"transform":[{"filter":"datum.f=='u'"}],"mark":{"type":"circle","color":"#0000ff","size":55,"opacity":1},
 "encoding":{"x":{"field":"t","type":"quantitative","scale":{"domain":[6860,7728],"nice":false,"zero":false},"axis":{"orient":"top","values":[7023.25,7205.875,7388.5,7571.125],"tickSize":-9,"labels":false,"domain":false,"title":null}},
 "y":{"field":"m","type":"quantitative","scale":{"domain":[15.48,17.01],"reverse":true,"nice":false,"zero":false},"axis":{"orient":"left","values":[15.6,15.8,16.0,16.2,16.4,16.6,16.8,17.0],"tickSize":-9,"labelPadding":16.5,"labelExpr":"indexof([15.6,16,16.4,16.8],datum.value)>=0?format(datum.value,'.1f'):''","domain":false,"title":"u","titleFont":"Liberation Serif","titleFontStyle":"italic","titleFontSize":24,"titleFontWeight":"normal","titlePadding":6}}}},
{"data":{"name":"mag"},"transform":[{"filter":"datum.f=='u'"}],"mark":{"type":"errorbar","color":"#ff00ff","thickness":1},
 "encoding":{"x":{"field":"t","type":"quantitative","scale":{"domain":[6860,7728],"nice":false,"zero":false},"axis":{"orient":"top","values":[6877.15,6913.675,6950.2,6986.725,7059.775,7096.3,7132.825,7169.35,7242.4,7278.925,7315.45,7351.975,7425.025,7461.55,7498.075,7534.6,7607.65,7644.175,7680.7,7717.225],"tickSize":-5,"labels":false,"domain":false,"title":null}},
 "y":{"field":"m","type":"quantitative","scale":{"domain":[15.48,17.01],"reverse":true,"nice":false,"zero":false},"axis":{"orient":"right","values":[15.5,15.55,15.6,15.65,15.7,15.75,15.8,15.85,15.9,15.95,16.0,16.05,16.1,16.15,16.2,16.25,16.3,16.35,16.4,16.45,16.5,16.55,16.6,16.65,16.7,16.75,16.8,16.85,16.9,16.95,17.0],"tickSize":-5,"labels":false,"domain":false,"title":null}},
 "yError":{"field":"e"}}},
{"data":{"name":"mag"},"transform":[{"filter":"datum.f=='u'"}],"mark":{"type":"point","shape":"M-1,0H1M0,-0.75V0.75","filled":false,"color":"#ff00ff","strokeWidth":1.6,"size":64,"opacity":1},
 "encoding":{"x":{"field":"t","type":"quantitative","scale":{"domain":[6860,7728],"nice":false,"zero":false},"axis":null},
 "y":{"field":"m","type":"quantitative","scale":{"domain":[15.48,17.01],"reverse":true,"nice":false,"zero":false},"axis":{"orient":"right","values":[15.6,15.8,16.0,16.2,16.4,16.6,16.8,17.0],"tickSize":-9,"labels":false,"domain":false,"title":null}}}}
]},
{"width":549,"height":113,"resolve":{"axis":{"x":"independent","y":"independent"}},
"layer":[
{"data":{"name":"lines"},"transform":[{"filter":"datum.f=='b'"}],"mark":{"type":"rule","strokeWidth":1.3},
 "encoding":{"x":{"field":"t","type":"quantitative","scale":{"domain":[6860,7728],"nice":false,"zero":false},"axis":{"orient":"bottom","values":[7000,7200,7400,7600],"tickSize":-9,"labels":false,"domain":false,"title":null}},
 "color":{"field":"k","type":"nominal","scale":{"domain":["a","b"],"range":["#606060","#000000"]},"legend":null}}},
{"data":{"name":"blue"},"transform":[{"filter":"datum.f=='b'"}],"mark":{"type":"errorbar","color":"#3355ff","thickness":2},
 "encoding":{"x":{"field":"t","type":"quantitative","scale":{"domain":[6860,7728],"nice":false,"zero":false},"axis":{"orient":"bottom","values":[6900,6950,7050,7100,7150,7250,7300,7350,7450,7500,7550,7650,7700],"tickSize":-5,"labels":false,"domain":false,"title":null}},
 "y":{"field":"m","type":"quantitative","scale":{"domain":[16.27,17.8],"reverse":true,"nice":false,"zero":false},"axis":{"orient":"left","values":[16.3,16.35,16.4,16.45,16.5,16.55,16.6,16.65,16.7,16.75,16.8,16.85,16.9,16.95,17.0,17.05,17.1,17.15,17.2,17.25,17.3,17.35,17.4,17.45,17.5,17.55,17.6,17.65,17.7,17.75,17.8],"tickSize":-5,"labels":false,"domain":false,"title":null}},
 "yError":{"field":"e"}}},
{"data":{"name":"blue"},"transform":[{"filter":"datum.f=='b'"}],"mark":{"type":"circle","color":"#0000ff","size":55,"opacity":1},
 "encoding":{"x":{"field":"t","type":"quantitative","scale":{"domain":[6860,7728],"nice":false,"zero":false},"axis":{"orient":"top","values":[7023.25,7205.875,7388.5,7571.125],"tickSize":-9,"labels":false,"domain":false,"title":null}},
 "y":{"field":"m","type":"quantitative","scale":{"domain":[16.27,17.8],"reverse":true,"nice":false,"zero":false},"axis":{"orient":"left","values":[16.4,16.6,16.8,17.0,17.2,17.4,17.6,17.8],"tickSize":-9,"labelPadding":16.5,"labelExpr":"indexof([16.4,16.8,17.2,17.6],datum.value)>=0?format(datum.value,'.1f'):''","domain":false,"title":"b","titleFont":"Liberation Serif","titleFontStyle":"italic","titleFontSize":24,"titleFontWeight":"normal","titlePadding":6}}}},
{"data":{"name":"mag"},"transform":[{"filter":"datum.f=='b'"}],"mark":{"type":"errorbar","color":"#ff00ff","thickness":1},
 "encoding":{"x":{"field":"t","type":"quantitative","scale":{"domain":[6860,7728],"nice":false,"zero":false},"axis":{"orient":"top","values":[6877.15,6913.675,6950.2,6986.725,7059.775,7096.3,7132.825,7169.35,7242.4,7278.925,7315.45,7351.975,7425.025,7461.55,7498.075,7534.6,7607.65,7644.175,7680.7,7717.225],"tickSize":-5,"labels":false,"domain":false,"title":null}},
 "y":{"field":"m","type":"quantitative","scale":{"domain":[16.27,17.8],"reverse":true,"nice":false,"zero":false},"axis":{"orient":"right","values":[16.3,16.35,16.4,16.45,16.5,16.55,16.6,16.65,16.7,16.75,16.8,16.85,16.9,16.95,17.0,17.05,17.1,17.15,17.2,17.25,17.3,17.35,17.4,17.45,17.5,17.55,17.6,17.65,17.7,17.75,17.8],"tickSize":-5,"labels":false,"domain":false,"title":null}},
 "yError":{"field":"e"}}},
{"data":{"name":"mag"},"transform":[{"filter":"datum.f=='b'"}],"mark":{"type":"point","shape":"M-1,0H1M0,-0.75V0.75","filled":false,"color":"#ff00ff","strokeWidth":1.6,"size":64,"opacity":1},
 "encoding":{"x":{"field":"t","type":"quantitative","scale":{"domain":[6860,7728],"nice":false,"zero":false},"axis":null},
 "y":{"field":"m","type":"quantitative","scale":{"domain":[16.27,17.8],"reverse":true,"nice":false,"zero":false},"axis":{"orient":"right","values":[16.4,16.6,16.8,17.0,17.2,17.4,17.6,17.8],"tickSize":-9,"labels":false,"domain":false,"title":null}}}}
]},
{"width":549,"height":113,"resolve":{"axis":{"x":"independent","y":"independent"}},
"layer":[
{"data":{"name":"lines"},"transform":[{"filter":"datum.f=='v'"}],"mark":{"type":"rule","strokeWidth":1.3},
 "encoding":{"x":{"field":"t","type":"quantitative","scale":{"domain":[6860,7728],"nice":false,"zero":false},"axis":{"orient":"bottom","values":[7000,7200,7400,7600],"tickSize":-9,"labelPadding":22,"format":"d","domain":false,"title":"Julian Date − 2450000","titleFont":"Liberation Mono","titleFontSize":20,"titleFontWeight":"normal","titlePadding":0}},
 "color":{"field":"k","type":"nominal","scale":{"domain":["a","b"],"range":["#606060","#000000"]},"legend":null}}},
{"data":{"name":"blue"},"transform":[{"filter":"datum.f=='v'"}],"mark":{"type":"errorbar","color":"#3355ff","thickness":2},
 "encoding":{"x":{"field":"t","type":"quantitative","scale":{"domain":[6860,7728],"nice":false,"zero":false},"axis":{"orient":"bottom","values":[6900,6950,7050,7100,7150,7250,7300,7350,7450,7500,7550,7650,7700],"tickSize":-5,"labels":false,"domain":false,"title":null}},
 "y":{"field":"m","type":"quantitative","scale":{"domain":[16.16,17.69],"reverse":true,"nice":false,"zero":false},"axis":{"orient":"left","values":[16.2,16.25,16.3,16.35,16.4,16.45,16.5,16.55,16.6,16.65,16.7,16.75,16.8,16.85,16.9,16.95,17.0,17.05,17.1,17.15,17.2,17.25,17.3,17.35,17.4,17.45,17.5,17.55,17.6,17.65],"tickSize":-5,"labels":false,"domain":false,"title":null}},
 "yError":{"field":"e"}}},
{"data":{"name":"blue"},"transform":[{"filter":"datum.f=='v'"}],"mark":{"type":"circle","color":"#0000ff","size":55,"opacity":1},
 "encoding":{"x":{"field":"t","type":"quantitative","scale":{"domain":[6860,7728],"nice":false,"zero":false},"axis":{"orient":"top","values":[7023.25,7205.875,7388.5,7571.125],"tickSize":-9,"labels":false,"domain":false,"title":null}},
 "y":{"field":"m","type":"quantitative","scale":{"domain":[16.16,17.69],"reverse":true,"nice":false,"zero":false},"axis":{"orient":"left","values":[16.2,16.4,16.6,16.8,17.0,17.2,17.4,17.6],"tickSize":-9,"labelPadding":16.5,"labelExpr":"indexof([16.6,17,17.4],datum.value)>=0?format(datum.value,'.1f'):''","domain":false,"title":"v","titleFont":"Liberation Serif","titleFontStyle":"italic","titleFontSize":24,"titleFontWeight":"normal","titlePadding":6}}}},
{"data":{"name":"mag"},"transform":[{"filter":"datum.f=='v'"}],"mark":{"type":"errorbar","color":"#ff00ff","thickness":1},
 "encoding":{"x":{"field":"t","type":"quantitative","scale":{"domain":[6860,7728],"nice":false,"zero":false},"axis":{"orient":"top","values":[6877.15,6913.675,6950.2,6986.725,7059.775,7096.3,7132.825,7169.35,7242.4,7278.925,7315.45,7351.975,7425.025,7461.55,7498.075,7534.6,7607.65,7644.175,7680.7,7717.225],"tickSize":-5,"labels":false,"domain":false,"title":null}},
 "y":{"field":"m","type":"quantitative","scale":{"domain":[16.16,17.69],"reverse":true,"nice":false,"zero":false},"axis":{"orient":"right","values":[16.2,16.25,16.3,16.35,16.4,16.45,16.5,16.55,16.6,16.65,16.7,16.75,16.8,16.85,16.9,16.95,17.0,17.05,17.1,17.15,17.2,17.25,17.3,17.35,17.4,17.45,17.5,17.55,17.6,17.65],"tickSize":-5,"labels":false,"domain":false,"title":null}},
 "yError":{"field":"e"}}},
{"data":{"name":"mag"},"transform":[{"filter":"datum.f=='v'"}],"mark":{"type":"point","shape":"M-1,0H1M0,-0.75V0.75","filled":false,"color":"#ff00ff","strokeWidth":1.6,"size":64,"opacity":1},
 "encoding":{"x":{"field":"t","type":"quantitative","scale":{"domain":[6860,7728],"nice":false,"zero":false},"axis":null},
 "y":{"field":"m","type":"quantitative","scale":{"domain":[16.16,17.69],"reverse":true,"nice":false,"zero":false},"axis":{"orient":"right","values":[16.2,16.4,16.6,16.8,17.0,17.2,17.4,17.6],"tickSize":-9,"labels":false,"domain":false,"title":null}}}}
]}
]
}
